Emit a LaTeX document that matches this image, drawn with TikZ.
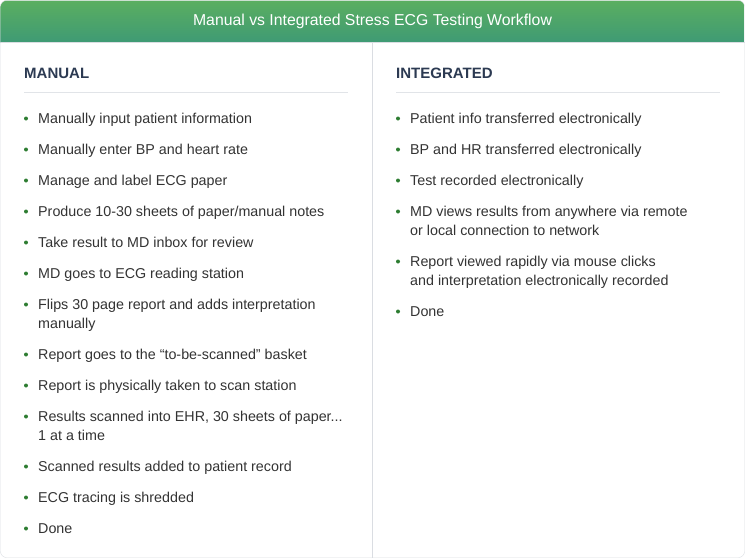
\documentclass[tikz,border=0pt]{standalone}
\usepackage{fontspec}
\setmainfont{Liberation Sans}
\usetikzlibrary{positioning}
\definecolor{headtop}{HTML}{5BAF60}
\definecolor{headbot}{HTML}{3F9A74}
\definecolor{cardedge}{HTML}{DADDE2}
\definecolor{rulegray}{HTML}{E1E4E8}
\definecolor{coltext}{HTML}{2C3A52}
\definecolor{bodytext}{HTML}{333333}
\definecolor{dotgreen}{HTML}{2E7D32}
\tikzset{
  title/.style={text=white, inner sep=0pt, font=\fontsize{15.8}{18}\selectfont},
  colhead/.style={anchor=base west, inner sep=0pt, text=coltext, font=\bfseries\fontsize{15}{18}\selectfont},
  item/.style={anchor=base west, inner sep=0pt, align=left, text=bodytext, font=\fontsize{14.3}{19}\selectfont},
  colrule/.style={draw=rulegray, line width=1pt},
  dot/.style={fill=dotgreen}
}

\begin{document}
\begin{tikzpicture}[x=1pt,y=-1pt]

\useasboundingbox (0,0) rectangle (745,558);

%card and header
\fill[white, rounded corners=6pt] (0.5,0.5) rectangle (744.5,557.5);
\begin{scope}
  \clip[rounded corners=6pt] (0.5,0.5) rectangle (744.5,557.5);
  \shade[top color=headtop, bottom color=headbot] (0,0) rectangle (745,42);
\end{scope}
\draw[cardedge, rounded corners=6pt] (0.5,0.5) rectangle (744.5,557.5);
\draw[cardedge] (0.5,42) -- (744.5,42);
\node[title] (title) at (372.5,21) {Manual vs Integrated Stress ECG Testing Workflow};

%divider
\draw[cardedge] (372,42) -- (372,557.5);

%column MANUAL (two-line items sit on the baseline of their last line)
\node[colhead] (manual) at (24,78) {MANUAL};
\draw[colrule] (24,92) -- (348,92);

\node[item] (m1) at (38,123) {Manually input patient information};
\node[item] (m2) at (38,154) {Manually enter BP and heart rate};
\node[item] (m3) at (38,185) {Manage and label ECG paper};
\node[item] (m4) at (38,216) {Produce 10-30 sheets of paper/manual notes};
\node[item] (m5) at (38,247) {Take result to MD inbox for review};
\node[item] (m6) at (38,278) {MD goes to ECG reading station};
\node[item] (m7) at (38,328) {Flips 30 page report and adds interpretation\\manually};
\node[item] (m8) at (38,359) {Report goes to the “to-be-scanned” basket};
\node[item] (m9) at (38,390) {Report is physically taken to scan station};
\node[item] (m10) at (38,440) {Results scanned into EHR, 30 sheets of paper...\\1 at a time};
\node[item] (m11) at (38,471) {Scanned results added to patient record};
\node[item] (m12) at (38,502) {ECG tracing is shredded};
\node[item] (m13) at (38,533) {Done};

\foreach \y in {123,154,185,216,247,278,309,359,390,421,471,502,533}
  \fill[dot] (26,\y-4.5) circle (2);

%column INTEGRATED
\node[colhead] (integrated) at (396,78) {INTEGRATED};
\draw[colrule] (396,92) -- (720,92);

\node[item] (i1) at (410,123) {Patient info transferred electronically};
\node[item] (i2) at (410,154) {BP and HR transferred electronically};
\node[item] (i3) at (410,185) {Test recorded electronically};
\node[item] (i4) at (410,235) {MD views results from anywhere via remote\\or local connection to network};
\node[item] (i5) at (410,285) {Report viewed rapidly via mouse clicks\\and interpretation electronically recorded};
\node[item] (i6) at (410,316) {Done};

\foreach \y in {123,154,185,216,266,316}
  \fill[dot] (398,\y-4.5) circle (2);

\end{tikzpicture}
\end{document}
